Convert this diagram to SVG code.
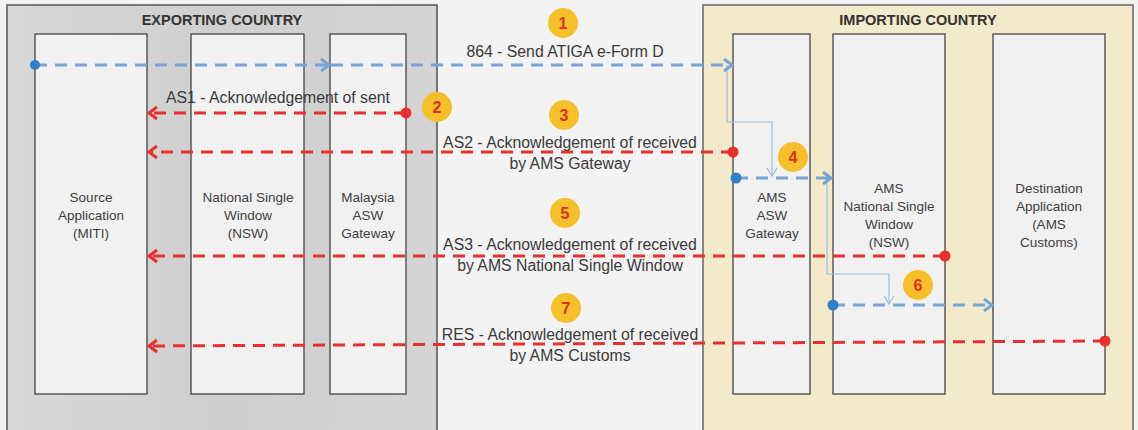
<svg xmlns="http://www.w3.org/2000/svg" width="1138" height="430" viewBox="0 0 1138 430">
<style>
.title{font-family:"Liberation Sans",Arial,sans-serif;font-weight:bold;font-size:14.5px;fill:#333;text-anchor:middle}
.col{font-family:"Liberation Sans",Arial,sans-serif;font-size:13.5px;fill:#404040;text-anchor:middle}
.lbl{font-family:"Liberation Sans",Arial,sans-serif;font-size:15.8px;fill:#3a3a3a;text-anchor:middle}
.num{font-family:"Liberation Sans",Arial,sans-serif;font-weight:bold;font-size:16px;fill:#e0301e;text-anchor:middle}
.box{fill:#f1f1f1;stroke:#444;stroke-width:1.3}
.red{stroke:#e8302e;stroke-width:3;stroke-dasharray:12 8;fill:none}
.blue{stroke:#77a6d6;stroke-width:3;stroke-dasharray:12 8;fill:none}
.thin{stroke:#9dbfe0;stroke-width:1.2;fill:none}
.badge{fill:#f5c02a}
</style>
<defs>
<linearGradient id="expg" x1="0" y1="0" x2="1" y2="0">
<stop offset="0" stop-color="#d8d8d8"/><stop offset="0.5" stop-color="#cfcfcf"/><stop offset="1" stop-color="#d4d4d4"/>
</linearGradient>
<marker id="ar" markerUnits="userSpaceOnUse" markerWidth="14" markerHeight="16" refX="11" refY="8" orient="auto">
<path d="M3,2 L11,8 L3,14" fill="none" stroke="#e8302e" stroke-width="3"/>
</marker>
<marker id="ab" markerUnits="userSpaceOnUse" markerWidth="14" markerHeight="16" refX="11" refY="8" orient="auto">
<path d="M3,2 L11,8 L3,14" fill="none" stroke="#77a6d6" stroke-width="3"/>
</marker>
<marker id="at" markerUnits="userSpaceOnUse" markerWidth="12" markerHeight="12" refX="10" refY="6" orient="auto">
<path d="M2,1 L10,6 L2,11" fill="none" stroke="#9dbfe0" stroke-width="1.2"/>
</marker>
</defs>
<rect x="0" y="0" width="1138" height="430" fill="#f3f3f3"/>
<g id="exporting">
<rect x="7" y="5" width="430" height="440" fill="url(#expg)" stroke="#555" stroke-width="1.5"/>
<text class="title" x="222" y="25">EXPORTING COUNTRY</text>
</g>
<g id="importing">
<rect x="703" y="5" width="430" height="440" fill="#f3e9cb" stroke="#666" stroke-width="1.5"/>
<text class="title" x="918" y="25">IMPORTING COUNTRY</text>
</g>
<g id="source-app">
<rect class="box" x="35" y="34" width="112" height="360"/>
<text class="col" x="91" y="202">Source</text>
<text class="col" x="91" y="220">Application</text>
<text class="col" x="91" y="238">(MITI)</text>
</g>
<g id="nsw">
<rect class="box" x="191" y="34" width="113" height="360"/>
<text class="col" x="248" y="202">National Single</text>
<text class="col" x="248" y="220">Window</text>
<text class="col" x="248" y="238">(NSW)</text>
</g>
<g id="malaysia-gw">
<rect class="box" x="330" y="34" width="76" height="360"/>
<text class="col" x="368" y="202">Malaysia</text>
<text class="col" x="368" y="220">ASW</text>
<text class="col" x="368" y="238">Gateway</text>
</g>
<g id="ams-gw">
<rect class="box" x="733" y="34" width="77" height="360"/>
<text class="col" x="772" y="202">AMS</text>
<text class="col" x="772" y="220">ASW</text>
<text class="col" x="772" y="238">Gateway</text>
</g>
<g id="ams-nsw">
<rect class="box" x="833" y="34" width="112" height="360"/>
<text class="col" x="889" y="193">AMS</text>
<text class="col" x="889" y="211">National Single</text>
<text class="col" x="889" y="229">Window</text>
<text class="col" x="889" y="247">(NSW)</text>
</g>
<g id="dest-app">
<rect class="box" x="993" y="34" width="112" height="360"/>
<text class="col" x="1049" y="193">Destination</text>
<text class="col" x="1049" y="211">Application</text>
<text class="col" x="1049" y="229">(AMS</text>
<text class="col" x="1049" y="247">Customs)</text>
</g>
<g id="connectors">
<polyline class="thin" points="727,65 727,122 772,122 772,176" marker-end="url(#at)"/>
<polyline class="thin" points="827,178 827,274 889,274 889,304" marker-end="url(#at)"/>
<line class="blue" x1="35" y1="65" x2="329" y2="65" marker-end="url(#ab)"/>
<line class="blue" x1="331" y1="65" x2="732" y2="65" marker-end="url(#ab)"/>
<circle cx="35" cy="65" r="5" fill="#2f7fcb"/>
<line class="red" x1="406" y1="113" x2="149" y2="113" marker-end="url(#ar)"/>
<circle cx="406" cy="113" r="5.5" fill="#e8302e"/>
<line class="red" x1="733" y1="152" x2="149" y2="152" marker-end="url(#ar)"/>
<circle cx="733" cy="152" r="5.5" fill="#e8302e"/>
<line class="blue" x1="736" y1="178" x2="831" y2="178" marker-end="url(#ab)"/>
<circle cx="736" cy="178" r="5.5" fill="#2f7fcb"/>
<line class="red" x1="945" y1="256" x2="149" y2="256" marker-end="url(#ar)"/>
<circle cx="945" cy="256" r="5.5" fill="#e8302e"/>
<line class="blue" x1="833" y1="305" x2="992" y2="305" marker-end="url(#ab)"/>
<circle cx="833" cy="305" r="5.5" fill="#2f7fcb"/>
<line class="red" x1="1105" y1="341" x2="149" y2="346" marker-end="url(#ar)"/>
<circle cx="1105" cy="341" r="5.5" fill="#e8302e"/>
</g>
<g id="labels">
<text class="lbl" x="565" y="57">864 - Send ATIGA e-Form D</text>
<text class="lbl" x="278" y="103">AS1 - Acknowledgement of sent</text>
<text class="lbl" x="570" y="148">AS2 - Acknowledgement of received</text>
<text class="lbl" x="570" y="169">by AMS Gateway</text>
<text class="lbl" x="570" y="250">AS3 - Acknowledgement of received</text>
<text class="lbl" x="570" y="271">by AMS National Single Window</text>
<text class="lbl" x="570" y="340">RES - Acknowledgement of received</text>
<text class="lbl" x="570" y="361">by AMS Customs</text>
</g>
<g id="badges">
<circle class="badge" cx="563" cy="23" r="15"/><text class="num" x="563" y="29">1</text>
<circle class="badge" cx="437" cy="107" r="15"/><text class="num" x="437" y="113">2</text>
<circle class="badge" cx="564" cy="115" r="15"/><text class="num" x="564" y="121">3</text>
<circle class="badge" cx="793" cy="157" r="15"/><text class="num" x="793" y="163">4</text>
<circle class="badge" cx="565" cy="213" r="15"/><text class="num" x="565" y="219">5</text>
<circle class="badge" cx="918" cy="285" r="15"/><text class="num" x="918" y="291">6</text>
<circle class="badge" cx="566" cy="308" r="15"/><text class="num" x="566" y="314">7</text>
</g>
</svg>
